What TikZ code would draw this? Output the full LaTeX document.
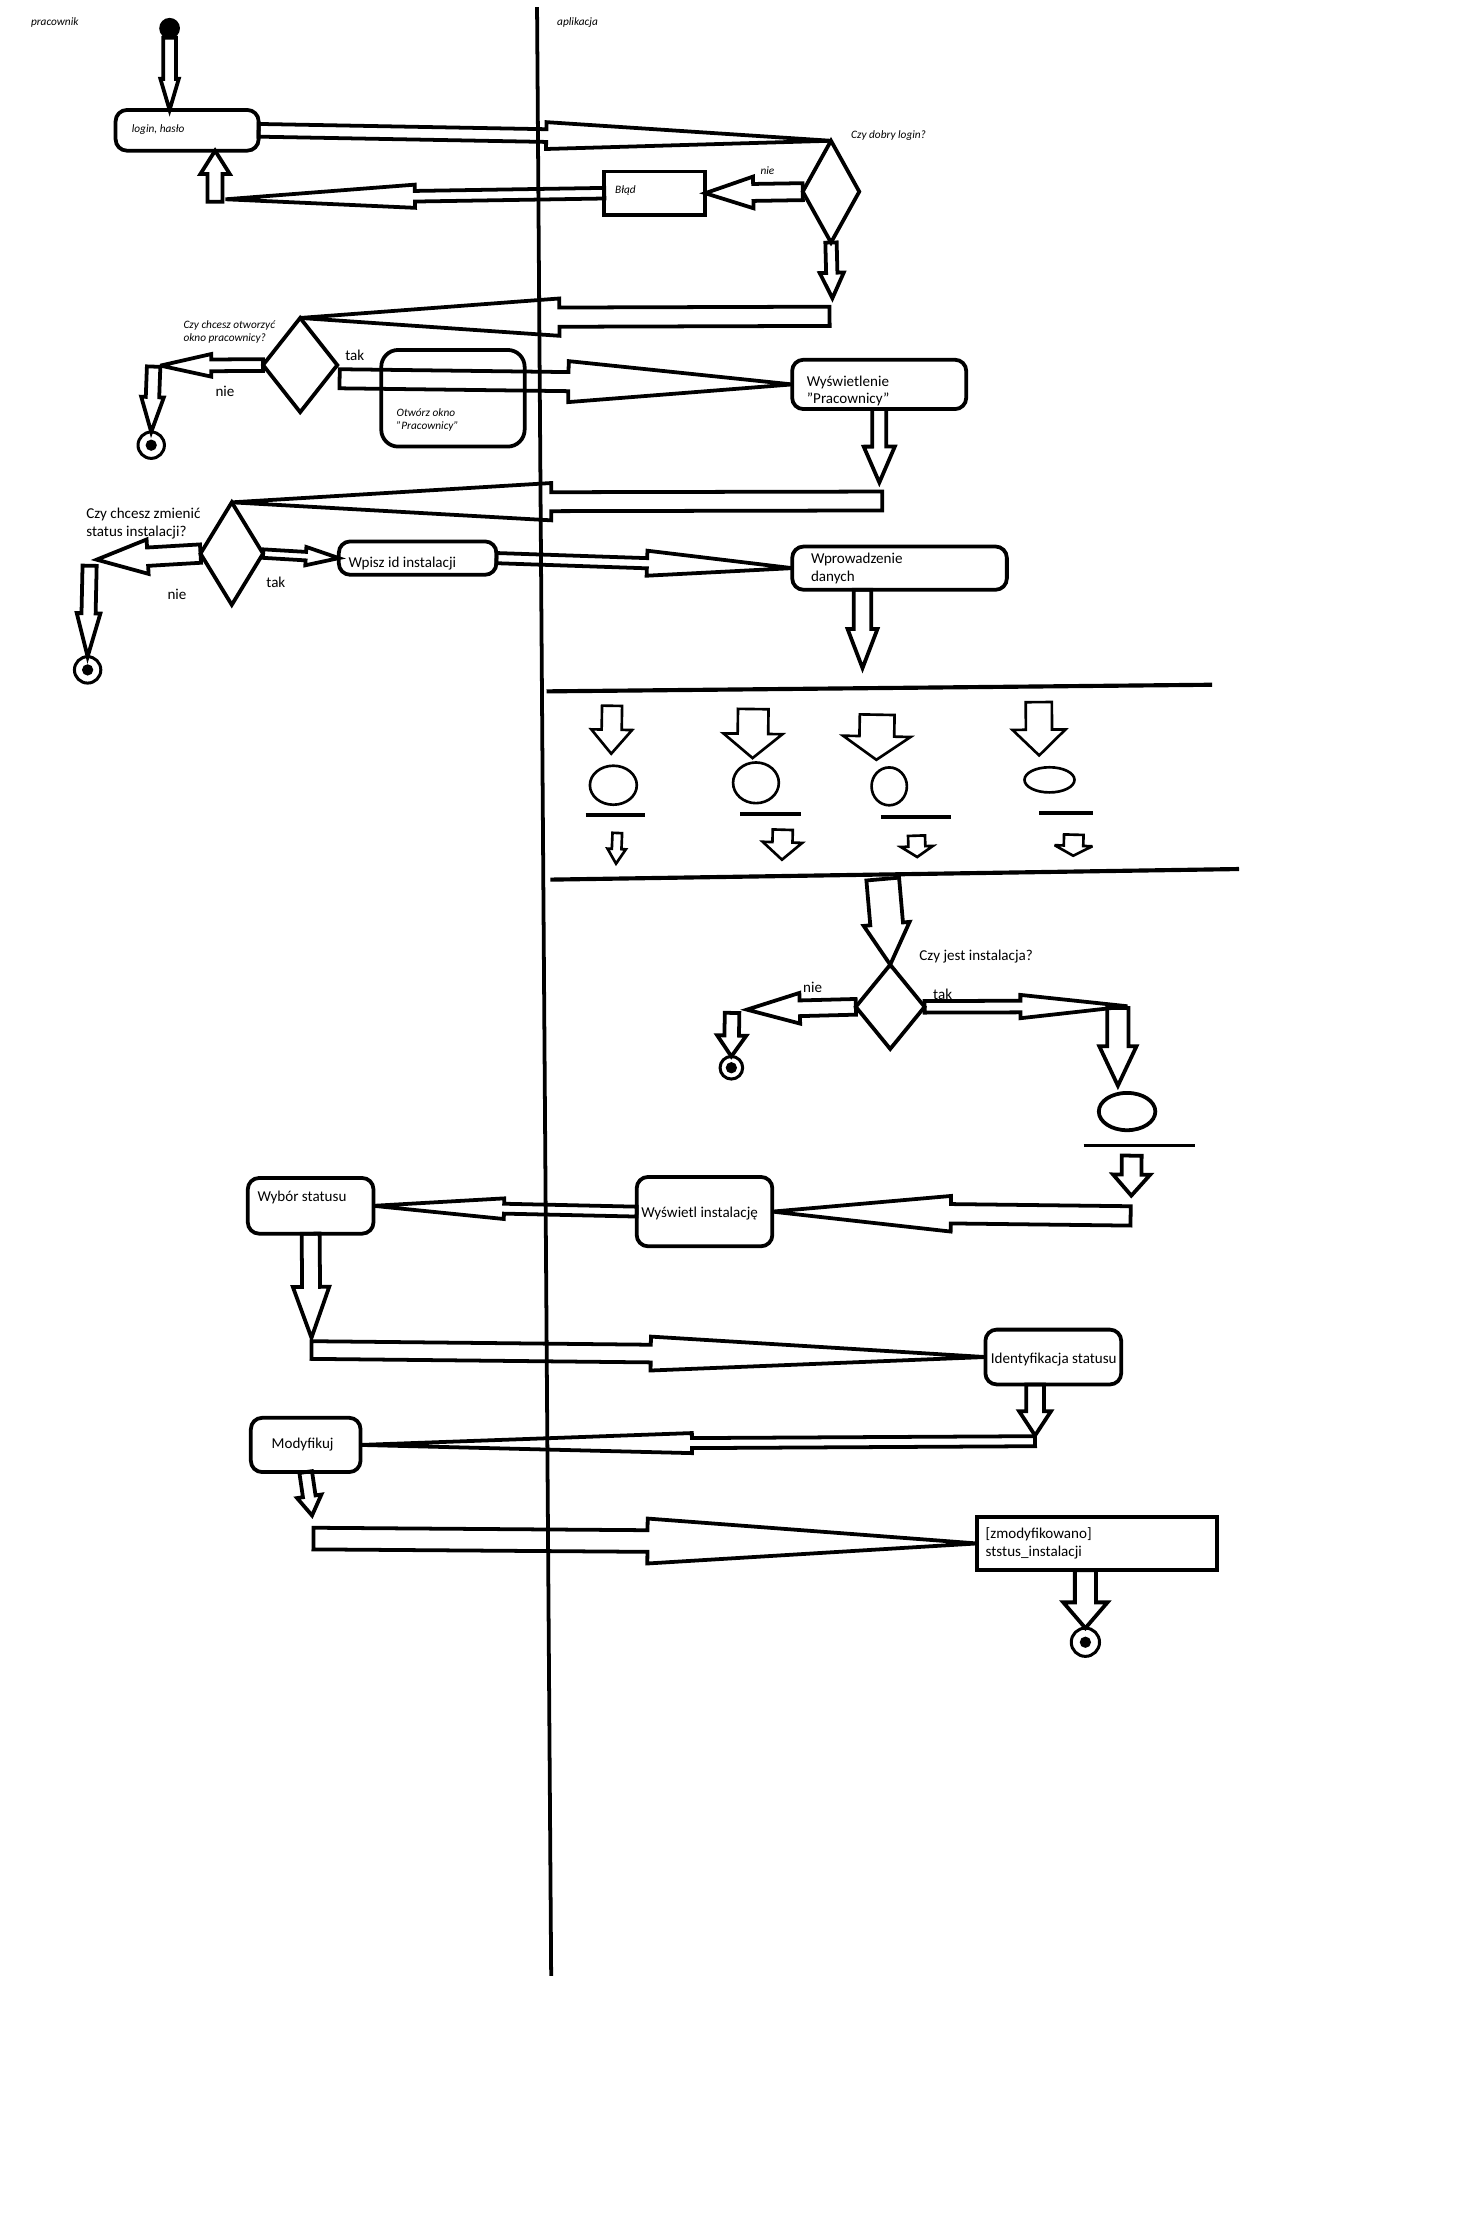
\documentclass[tikz,border=0pt]{standalone}
\usepackage{fontspec}
\setmainfont{Carlito}
\usetikzlibrary{calc,shapes.geometric}
\tikzset{
  kontur/.style={draw=black,line width=2pt},
  box/.style={kontur,rounded corners=6pt,inner sep=0pt,outer sep=0pt},
  ramka/.style={kontur,inner sep=0pt,outer sep=0pt},
  decyzja/.style={kontur,diamond,inner sep=0pt,outer sep=0pt},
  strz/.style={draw=black,line width=2pt,line join=miter,miter limit=4},
  cstrz/.style={draw=black,line width=1.4pt,line join=miter,miter limit=4},
  elip/.style={ellipse,draw=black,line width=1.4pt,inner sep=0pt,outer sep=0pt},
  belka/.style={draw=black,line width=2pt},
  txt/.style={font=\fontsize{8}{9.4}\selectfont,inner sep=0pt,align=left},
  mtxt/.style={font=\fontsize{6}{7}\selectfont\itshape,inner sep=0pt,align=left},
  poczatek/.style={circle,draw=black,fill=black,line width=1pt,minimum size=10pt,inner sep=0pt,outer sep=0pt},
  koniec/.style={circle,draw=black,line width=1.6pt,inner sep=0pt,outer sep=0pt,
    path picture={\fill[black] (path picture bounding box.center) circle[radius=3pt];}},
}
% strzalka blokowa: [styl]{od}{do}{pol trzonu}{pol grotu}{dl grotu}
\newcommand{\blokstrz}[6][strz]{%
  \coordinate (bs-h) at ($(#3)!#6*0.75pt!(#2)$);
  \draw[#1] ($(#2)!#4*0.75pt!90:(#3)$) -- ($(bs-h)!#4*0.75pt!90:(#3)$)
    -- ($(bs-h)!#5*0.75pt!90:(#3)$) -- (#3)
    -- ($(bs-h)!#5*0.75pt!-90:(#3)$) -- ($(bs-h)!#4*0.75pt!-90:(#3)$)
    -- ($(#2)!#4*0.75pt!-90:(#3)$) -- cycle;}

\begin{document}
\begin{tikzpicture}[x=0.75pt,y=-0.75pt]
  \fill[white] (0,0) rectangle (1044,1568);
  \useasboundingbox (0,0) rectangle (1044,1568);
  % tory
  \draw[kontur] (380,5) -- (390,1398);
  \node[mtxt,anchor=west] (tor1) at (21.7,16) {pracownik};
  \node[mtxt,anchor=west] (tor2) at (394,16) {aplikacja};
  % logowanie
  \node[poczatek] (st) at (120,20) {};
  \node[box,minimum width=75.9pt,minimum height=21.6pt] (login) at (132.4,92.2) {};
  \node[mtxt,anchor=west] (login-t) at (93,92) {login, hasło};
  \node[decyzja,minimum width=30pt,minimum height=54pt] (dec1) at (588,135.6) {};
  \node[mtxt,anchor=west] (q1) at (602,96) {Czy dobry login?};
  \node[ramka,minimum width=53.55pt,minimum height=22.95pt] (blad) at (463.3,136.7) {};
  \node[mtxt,anchor=west] (blad-t) at (435,135) {Błąd};
  \node[mtxt] (n1) at (543,121) {nie};
  \blokstrz{st.south}{login.north -| st}{4.5}{6.5}{22}
  \blokstrz{login.east}{dec1.north}{4.5}{9.5}{201.5}
  \blokstrz{dec1.west}{blad.east}{6}{11.2}{34}
  \coordinate (a4k) at (159.6,141);
  \blokstrz{blad.west}{a4k}{3.75}{8.2}{134}
  \coordinate (a5p) at (152.2,142.7);
  \blokstrz{a5p}{login.south -| a5p}{5.3}{10.4}{16.5}
  \coordinate (a6k) at (589,211);
  \blokstrz{dec1.south}{a6k}{4}{8.5}{18}
  % okno pracownicy
  \node[decyzja,minimum width=39.4pt,minimum height=50pt] (dec2) at (212.4,258.3) {};
  \node[mtxt,anchor=west] (q2) at (129.6,235.1) {Czy chcesz otworzyć\\okno pracownicy?};
  \node[txt] (n2) at (159.2,277) {nie};
  \node[txt] (t2) at (251,251.6) {tak};
  \node[koniec,minimum size=14pt] (k1) at (107,315) {};
  \node[box,rounded corners=9pt,minimum width=76.1pt,minimum height=51.3pt] (otworz) at (320.5,281.8) {};
  \node[mtxt,anchor=west] (otworz-t) at (280.4,297.2) {Otwórz okno\\"Pracownicy"};
  \node[box,minimum width=92.4pt,minimum height=26.2pt] (wysw) at (622.1,272) {};
  \node[txt,anchor=west] (wysw-t) at (570.7,276.7) {Wyświetlenie\\"Pracownicy"};
  \coordinate (a7p) at (587,223.8);
  \blokstrz{a7p}{dec2.north}{6.8}{13.2}{183.4}
  \coordinate (a8k) at (113.5,258.7);
  \blokstrz{dec2.west}{a8k}{4.15}{8}{36}
  \coordinate (a9p) at (108.7,259.4);
  \blokstrz{a9p}{k1.north}{4.75}{8}{24.7}
  \coordinate (a10p) at (240.3,268);
  \blokstrz{a10p}{wysw.west}{6.75}{14.5}{158.3}
  \coordinate (a11k) at (622.2,341.4);
  \blokstrz{wysw.south}{a11k}{5}{11}{25.4}
  % zmiana statusu
  \node[decyzja,minimum width=33.2pt,minimum height=54.4pt] (dec3) at (164,391.7) {};
  \node[txt,anchor=west] (q3) at (60.8,370.4) {Czy chcesz zmienić\\status instalacji?};
  \node[txt] (n3) at (125.2,420.4) {nie};
  \node[txt] (t3) at (195.2,412.1) {tak};
  \node[koniec,minimum size=14pt] (k2) at (62,474) {};
  \node[box,minimum width=83.6pt,minimum height=17.7pt] (wpisz) at (295.5,394.9) {};
  \node[txt,anchor=west] (wpisz-t) at (246.4,399) {Wpisz id instalacji};
  \node[box,minimum width=113.9pt,minimum height=22.95pt] (wprow) at (636.5,402) {};
  \node[txt,anchor=west] (wprow-t) at (573.6,402) {Wprowadzenie\\danych};
  \coordinate (a12p) at (624.3,354.5);
  \blokstrz{a12p}{dec3.north}{6.7}{13.2}{226}
  \coordinate (a13k) at (68.4,396);
  \blokstrz{dec3.west}{a13k}{6.5}{12.2}{36.1}
  \coordinate (a14p) at (63.4,400.3);
  \blokstrz{a14p}{k2.north}{5}{8.35}{30.7}
  \blokstrz{dec3.east}{wpisz.west}{3}{6.5}{23.4}
  \blokstrz{wpisz.east}{wprow.west}{3.6}{8.85}{102.8}
  \coordinate (a17k) at (610.3,472.7);
  \blokstrz{wprow.south -| a17k}{a17k}{6.15}{10.55}{27.6}
  % rozwidlenie
  \draw[kontur,line width=2.2pt] (386.7,489.2) -- (857.6,484.5);
  \draw[kontur,line width=2.2pt] (389.4,622.4) -- (876.7,614.9);
  \coordinate (f1p) at (433.1,499.4); \coordinate (f1k) at (432.5,533.3);
  \coordinate (f2p) at (533,501.7);   \coordinate (f2k) at (532.5,536.4);
  \coordinate (f3p) at (620.7,505.7); \coordinate (f3k) at (620.1,537.6);
  \coordinate (f4p) at (735,496.8);   \coordinate (f4k) at (735.3,534.5);
  \blokstrz[cstrz]{f1p}{f1k}{7.1}{14.45}{17}
  \blokstrz[cstrz]{f2p}{f2k}{10.8}{20.9}{17.2}
  \blokstrz[cstrz]{f3p}{f3k}{12.3}{23.9}{16.6}
  \blokstrz[cstrz]{f4p}{f4k}{9.25}{18.75}{18.2}
  \node[elip,minimum width=24.9pt,minimum height=20.7pt] (o1) at (434,555.6) {};
  \node[elip,minimum width=24.3pt,minimum height=21.6pt] (o2) at (534.9,553.9) {};
  \node[elip,minimum width=18.75pt,minimum height=20.1pt] (o3) at (629.2,556.4) {};
  \node[elip,minimum width=26.55pt,minimum height=13.35pt] (o4) at (742.6,551.8) {};
  \draw[belka] (414.4,576.5) -- (456.2,576.5);
  \draw[belka] (523.9,575.8) -- (567,575.8);
  \draw[belka] (623.2,578.1) -- (673.2,578.1);
  \draw[belka] (735.3,575.3) -- (773.2,575.3);
  \coordinate (s1p) at (436.8,589.4); \coordinate (s1k) at (435.9,611.1);
  \coordinate (s2p) at (553.9,587.1); \coordinate (s2k) at (553.3,608.3);
  \coordinate (s3p) at (648.5,591.3); \coordinate (s3k) at (649,606.4);
  \coordinate (s4p) at (759.8,590.6); \coordinate (s4k) at (759.4,605.5);
  \blokstrz[cstrz]{s1p}{s1k}{3.4}{6.5}{10.4}
  \blokstrz[cstrz]{s2p}{s2k}{7.1}{14}{12.3}
  \blokstrz[cstrz]{s3p}{s3k}{6}{11.4}{7.5}
  \blokstrz[cstrz]{s4p}{s4k}{6.9}{13.35}{7.1}
  % czy jest instalacja
  \node[decyzja,minimum width=36.5pt,minimum height=44.7pt] (dec4) at (629.9,712.4) {};
  \node[txt,anchor=west] (q4) at (650.3,676.7) {Czy jest instalacja?};
  \node[txt] (n4) at (575,698.4) {nie};
  \node[txt] (t4) at (667,703.3) {tak};
  \node[koniec,minimum size=12pt] (k3) at (517.5,755.5) {};
  \node[elip,line width=2pt,minimum width=30pt,minimum height=19.8pt] (o5) at (797.5,786.5) {};
  \draw[belka] (766.7,810.6) -- (845.7,810.6);
  \coordinate (a18p) at (624.6,622);
  \blokstrz{a18p}{dec4.north}{11.6}{16.3}{29}
  \coordinate (a19k) at (528.5,714.4);
  \blokstrz{dec4.west}{a19k}{5.55}{10.85}{37.4}
  \coordinate (a20p) at (518,716.7);
  \blokstrz{a20p}{k3.north}{5.15}{10.3}{14.8}
  \coordinate (a21k) at (797.8,712);
  \blokstrz{dec4.east}{a21k}{4.1}{8.25}{75.8}
  \coordinate (a22p) at (791,713.2); \coordinate (a22k) at (791,768.2);
  \blokstrz{a22p}{a22k}{7.55}{13.15}{27.9}
  \coordinate (a23p) at (800.8,817.7); \coordinate (a23k) at (800.5,846);
  \blokstrz{a23p}{a23k}{7}{13.15}{14.9}
  % wybor i modyfikacja
  \node[box,minimum width=72pt,minimum height=36.8pt] (wyswinst) at (498.5,857.3) {};
  \node[txt,anchor=west] (wyswinst-t) at (453.6,858.7) {Wyświetl instalację};
  \node[box,minimum width=66.7pt,minimum height=29.55pt] (wybor) at (219.8,853.2) {};
  \node[txt,anchor=west] (wybor-t) at (182,847.1) {Wybór statusu};
  \node[box,minimum width=72.1pt,minimum height=29.1pt] (ident) at (745.3,960.2) {};
  \node[txt,anchor=west] (ident-t) at (700.8,962) {Identyfikacja statusu};
  \node[box,minimum width=58.2pt,minimum height=28.8pt] (modyf) at (216.3,1022.4) {};
  \node[txt,anchor=west] (modyf-t) at (192,1022) {Modyfikuj};
  \node[ramka,minimum width=127.3pt,minimum height=28.35pt] (zmod) at (776.2,1092.1) {};
  \node[txt,anchor=west] (zmod-t) at (697.2,1092) {[zmodyfikowano]\\ststus\_instalacji};
  \node[koniec,minimum size=15pt] (k4) at (768,1162) {};
  \coordinate (a24p) at (800,860.35);
  \blokstrz{a24p}{wyswinst.east}{6.85}{12.6}{126.3}
  \blokstrz{wyswinst.west}{wybor.east}{3.5}{7.3}{92.4}
  \coordinate (a26k) at (220.4,946.6);
  \blokstrz{wybor.south}{a26k}{6.35}{12.85}{36}
  \coordinate (a27p) at (220.4,955.25);
  \blokstrz{a27p}{ident.west}{6.25}{12}{236.8}
  \coordinate (a28k) at (732.4,1015.7);
  \blokstrz{ident.south -| a28k}{a28k}{6.3}{11.3}{17.2}
  \coordinate (a29p) at (732.4,1019.75);
  \blokstrz{a29p}{modyf.east}{3.55}{7.1}{234.5}
  \coordinate (a30k) at (220.8,1072.3);
  \blokstrz{modyf.south}{a30k}{4.5}{8.7}{13.7}
  \coordinate (a31p) at (221.8,1088.65);
  \blokstrz{a31p}{zmod.west}{7.65}{15.9}{233.2}
  \blokstrz{zmod.south -| k4}{k4.north}{7.45}{15.65}{18.2}
\end{tikzpicture}
\end{document}
